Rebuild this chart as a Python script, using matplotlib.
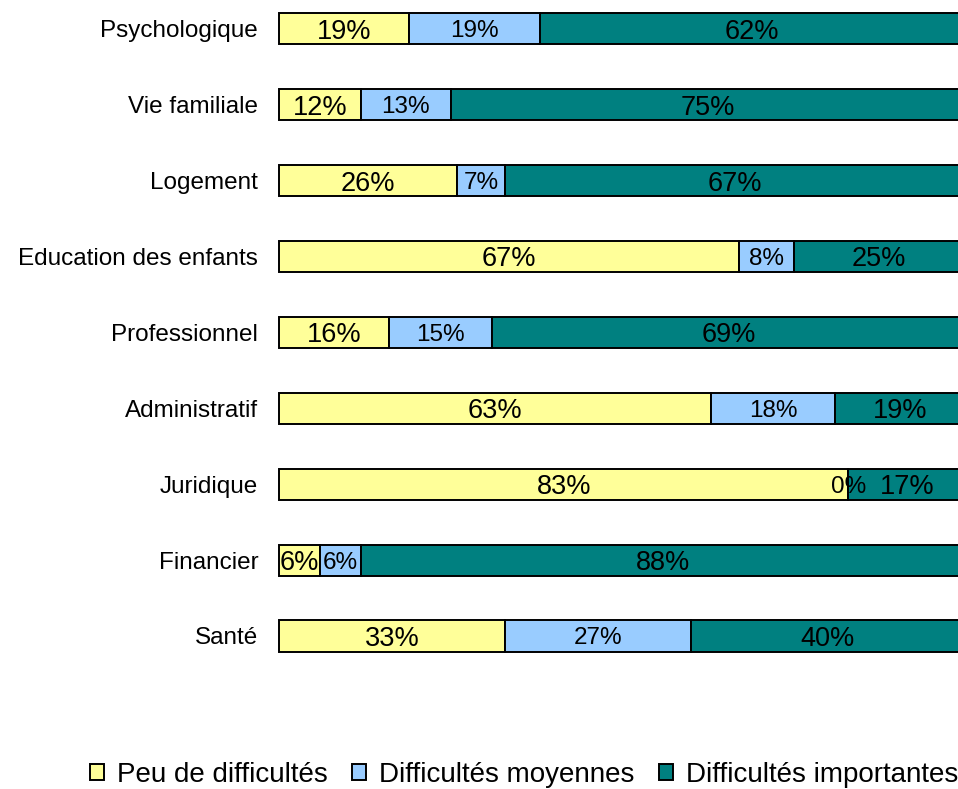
import matplotlib
matplotlib.use("Agg")
import matplotlib.pyplot as plt
import numpy as np

categories = ["Psychologique", "Vie familiale", "Logement", "Education des enfants",
              "Professionnel", "Administratif", "Juridique", "Financier", "Santé"]
peu = [19, 12, 26, 67, 16, 63, 83, 6, 33]
moyennes = [19, 13, 7, 8, 15, 18, 0, 6, 27]
importantes = [62, 75, 67, 25, 69, 19, 17, 88, 40]
series_names = ["Peu de difficultés", "Difficultés moyennes", "Difficultés importantes"]
colors = ["#FFFF99", "#99CCFF", "#008080"]
label_sizes = [19.5, 17.5, 19.5]

plt.rcParams['font.family'] = ['Liberation Sans', 'DejaVu Sans']

W, H = 958, 789
fig = plt.figure(figsize=(W / 100, H / 100), dpi=100)
ax_left = 279 / W
ax_width = 686 / W
ylo, yhi = -0.6, 8.4
row_sp = 75.9
bottom_px = 636 + 0.6 * row_sp
top_px = 636 - 8.4 * row_sp
ax = fig.add_axes([ax_left, (H - bottom_px) / H, ax_width, (bottom_px - top_px) / H])

n = len(categories)
ypos = np.arange(n)[::-1]
data = [peu, moyennes, importantes]
left = np.zeros(n)
handles = []
for vals, col, name, fs in zip(data, colors, series_names, label_sizes):
    vals = np.array(vals, dtype=float)
    b = ax.barh(ypos, vals, left=left, height=0.41, color=col, edgecolor="black",
                linewidth=1.4, label=name, clip_on=False)
    handles.append(b)
    for y, l, v in zip(ypos, left, vals):
        ax.text(l + v / 2, y, f"{int(v)}%", ha="center", va="center_baseline",
                fontsize=fs, color="black", clip_on=False)
    left = left + vals

ax.set_xlim(0, 100)
ax.set_ylim(ylo, yhi)
ax.set_yticks(ypos)
ax.set_yticklabels(categories, fontsize=17.5)
ax.tick_params(axis="y", length=0, pad=15)
ax.tick_params(axis="x", length=0, labelbottom=False)
for s in ax.spines.values():
    s.set_visible(False)

leg = fig.legend(handles=handles, labels=series_names, loc="center",
                 bbox_to_anchor=(524 / W, (H - 775) / H), ncol=3, frameon=False,
                 fontsize=20, handlelength=0.5, handleheight=0.5,
                 handletextpad=0.45, columnspacing=0.9, borderaxespad=0)
for h in leg.legend_handles:
    h.set_edgecolor("black")
    h.set_linewidth(1.4)

fig.savefig("out.png", dpi=100)
